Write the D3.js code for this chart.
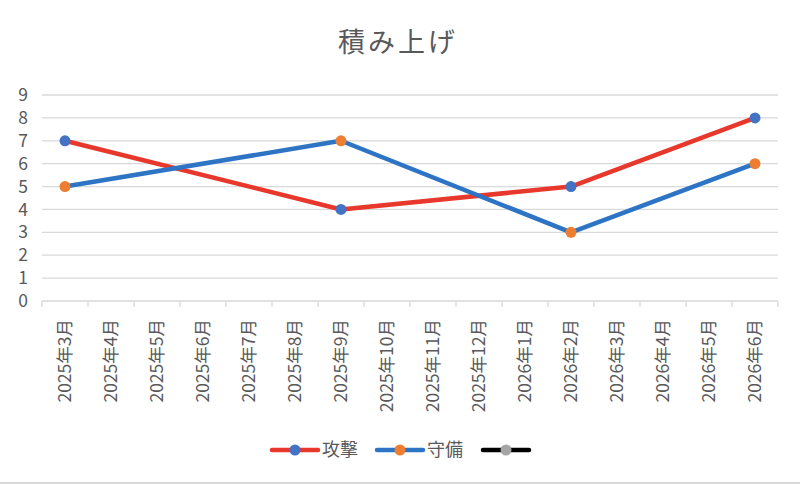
<!DOCTYPE html>
<html>
<head>
<meta charset="utf-8">
<script src="https://cdn.jsdelivr.net/npm/d3@7"></script>
<style>
  body { margin: 0; background: #fff; }
  text { font-family: "Noto Sans CJK JP", "Noto Sans", sans-serif; fill: #595959; }
</style>
</head>
<body>
<div id="chart"></div>
<script>
const categories = [
  "2025年3月", "2025年4月", "2025年5月", "2025年6月", "2025年7月", "2025年8月",
  "2025年9月", "2025年10月", "2025年11月", "2025年12月", "2026年1月", "2026年2月",
  "2026年3月", "2026年4月", "2026年5月", "2026年6月"
];
// empty months are null; the lines span the gaps
const attackValues = [7, null, null, null, null, null, 4, null, null, null, null, 5, null, null, null, 8];
const defenseValues = [5, null, null, null, null, null, 7, null, null, null, null, 3, null, null, null, 6];
const thirdValues = categories.map(() => null);
const yTicks = [0, 1, 2, 3, 4, 5, 6, 7, 8, 9];

const series = [
  { name: "攻撃", values: attackValues, line: "#e8372b", marker: "#4472c4" },
  { name: "守備", values: defenseValues, line: "#2e74c4", marker: "#ed7d31" },
  { name: "", values: thirdValues, line: "#000000", marker: "#a5a5a5" }
];

const width = 800, height = 484;
const margin = { top: 95, right: 22, bottom: 183, left: 42 };
const innerW = width - margin.left - margin.right;
const innerH = height - margin.top - margin.bottom;

const svg = d3.select("#chart").append("svg")
  .attr("width", width)
  .attr("height", height);

// title
svg.append("text")
  .attr("x", 398)
  .attr("y", 52)
  .attr("text-anchor", "middle")
  .attr("font-size", 27)
  .attr("letter-spacing", 3)
  .text("積み上げ");

const g = svg.append("g")
  .attr("transform", `translate(${margin.left},${margin.top})`);

const x = d3.scaleBand().domain(categories).range([0, innerW]);
const y = d3.scaleLinear().domain([0, 9]).range([innerH, 0]);

// gridlines
g.append("g")
  .selectAll("line")
  .data(yTicks.filter(d => d > 0))
  .join("line")
  .attr("x1", 0)
  .attr("x2", innerW)
  .attr("y1", d => y(d))
  .attr("y2", d => y(d))
  .attr("stroke", "#d9d9d9")
  .attr("stroke-width", 1.3);

// y axis labels (no axis line)
const yAxis = g.append("g")
  .call(d3.axisLeft(y).tickValues(yTicks).tickSize(0).tickPadding(14));
yAxis.select(".domain").remove();
yAxis.selectAll("text")
  .attr("font-size", 17.5)
  .attr("font-family", "Noto Sans CJK JP")
  .attr("fill", "#595959");

// x axis with ticks between categories
const xAxis = g.append("g")
  .attr("transform", `translate(0,${innerH})`);
xAxis.append("line")
  .attr("x1", 0).attr("x2", innerW)
  .attr("stroke", "#d9d9d9").attr("stroke-width", 1.3);
xAxis.selectAll(".tick-mark")
  .data(d3.range(categories.length + 1))
  .join("line")
  .attr("class", "tick-mark")
  .attr("x1", i => i * x.step())
  .attr("x2", i => i * x.step())
  .attr("y1", 0).attr("y2", 6)
  .attr("stroke", "#d9d9d9").attr("stroke-width", 1.3);
xAxis.selectAll(".cat-label")
  .data(categories)
  .join("text")
  .attr("class", "cat-label")
  .attr("transform", d => `translate(${x(d) + x.bandwidth() / 2},18) rotate(-90)`)
  .attr("text-anchor", "end")
  .attr("dy", "0.35em")
  .attr("font-size", 17.5)
  .text(d => d);

// lines + markers
const line = d3.line()
  .x(d => x(d.cat) + x.bandwidth() / 2)
  .y(d => y(d.v));

series.forEach(s => {
  const pts = categories
    .map((c, i) => ({ cat: c, v: s.values[i] }))
    .filter(d => d.v !== null);
  if (!pts.length) return;
  g.append("path")
    .datum(pts)
    .attr("d", line)
    .attr("fill", "none")
    .attr("stroke", s.line)
    .attr("stroke-width", 4.5)
    .attr("stroke-linejoin", "round");
  g.selectAll(null)
    .data(pts)
    .join("circle")
    .attr("cx", d => x(d.cat) + x.bandwidth() / 2)
    .attr("cy", d => y(d.v))
    .attr("r", 5.5)
    .attr("fill", s.marker);
});

// legend
const legendX = [272, 377, 483];
const legend = svg.append("g").attr("transform", "translate(0,450)");
series.forEach((s, i) => {
  const lg = legend.append("g").attr("transform", `translate(${legendX[i]},0)`);
  lg.append("line")
    .attr("x1", 0).attr("x2", 46)
    .attr("stroke", s.line).attr("stroke-width", 4.5)
    .attr("stroke-linecap", "round");
  lg.append("circle").attr("cx", 23).attr("r", 5.5).attr("fill", s.marker);
  lg.append("text")
    .attr("x", 50)
    .attr("dy", "0.35em")
    .attr("font-size", 18)
    .text(s.name);
});

// bottom border
svg.append("line")
  .attr("x1", 0).attr("x2", width)
  .attr("y1", 483).attr("y2", 483)
  .attr("stroke", "#d9d9d9").attr("stroke-width", 2);
</script>
</body>
</html>
